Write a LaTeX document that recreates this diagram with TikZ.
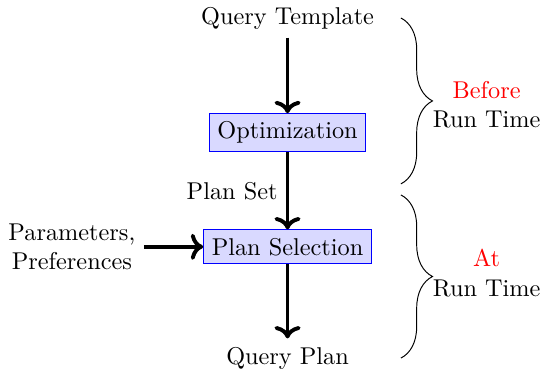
\documentclass[tikz,border=0pt]{standalone}
\usepackage{xcolor}
\usetikzlibrary{arrows.meta,positioning,decorations.pathreplacing}

\begin{document}
\begin{tikzpicture}[
    stagebox/.style={draw=blue, fill=blue!15},
    flowarrow/.style={ultra thick, ->},
    phasebrace/.style={decorate, decoration={brace, amplitude=13pt}}
  ]
    \useasboundingbox (0, 0) rectangle (7.87, -5.39);

    \node (template) at (4.16, -0.26) {Query Template};
    \node[stagebox] (optim) at (4.16, -1.92) {Optimization};
    \node[stagebox] (select) at (4.16, -3.57) {Plan Selection};
    \node[align=center] (params) at (1.04, -3.57) {Parameters,\\Preferences};
    \node (plan) at (4.16, -5.18) {Query Plan};

    \draw[flowarrow] (template) -- (optim);
    \draw[flowarrow] (optim) -- node[left] (planset) {Plan Set} (select);
    \draw[flowarrow] (params) -- (select);
    \draw[flowarrow] (select) -- (plan);

    \coordinate (b1top) at (5.80, -0.26);
    \coordinate (b1bot) at (5.80, -2.66);
    \coordinate (b2top) at (5.80, -2.82);
    \coordinate (b2bot) at (5.80, -5.18);
    \draw[phasebrace] (b1top) -- (b1bot);
    \draw[phasebrace] (b2top) -- (b2bot);

    \node[align=center] (before) at (7.04, -1.52) {\textcolor{red}{Before}\\Run Time};
    \node[align=center] (atrun) at (7.04, -3.95) {\textcolor{red}{At}\\Run Time};
\end{tikzpicture}
\end{document}
